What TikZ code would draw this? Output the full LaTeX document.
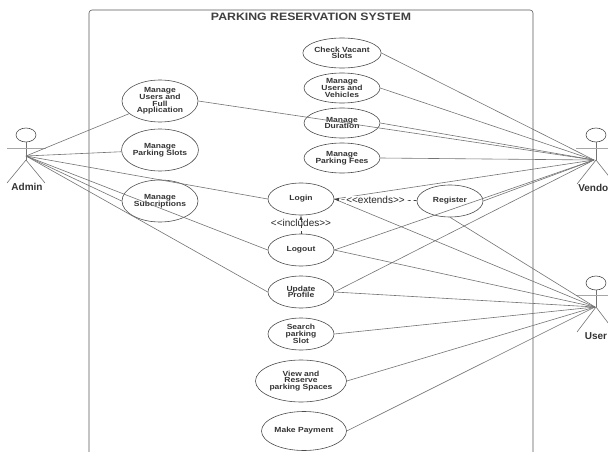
\documentclass[tikz,border=0pt]{standalone}
\usepackage{fontspec}
\setmainfont{Liberation Sans}
\newfontfamily\widefont[FakeStretch=1.15]{Liberation Sans}
\usetikzlibrary{shapes.geometric}
\setlength{\lineskiplimit}{-20pt}

\begin{document}
\begin{tikzpicture}[x=1pt, y=-1pt, line width=0.6pt, color=black!55,
    usecase/.style={ellipse, draw=black!70, inner sep=0pt, align=center, text=black!80, minimum width=76pt, minimum height=42pt, font=\widefont\bfseries\fontsize{7.4}{6.7}\selectfont},
    midcase/.style={usecase, minimum width=66pt, minimum height=32pt},
    actorname/.style={inner sep=0pt, text=black!80, font=\bfseries\fontsize{10}{12}\selectfont},
    relation/.style={inner sep=0pt, text=black!85, font=\fontsize{10}{12}\selectfont},
    depend/.style={dashed, draw=black!75, -latex}]

\useasboundingbox (0,0) rectangle (608,452);
\clip (0,0) rectangle (608,452);

% system
\draw[draw=black!65, rounded corners=3pt] (89,470) -- (89,10) -- (533,10) -- (533,470);
\node[inner sep=0pt, text=black!75, font=\widefont\bfseries\fontsize{10.7}{12}\selectfont] (title) at (311,17) {PARKING RESERVATION SYSTEM};

% use cases
\node[usecase] (fullapp) at (160,101) {Manage\\Users and\\Full\\Application};
\node[usecase] (slots) at (160,150) {Manage\\Parking Slots};
\node[usecase] (subs) at (160,201) {Manage\\Subcriptions};
\node[usecase, minimum height=30pt] (vacant) at (342,53) {Check Vacant\\Slots};
\node[usecase, minimum height=30pt] (vehicles) at (342,88) {Manage\\Users and\\Vehicles};
\node[usecase, minimum height=30pt] (duration) at (342,123) {Manage\\Duration};
\node[usecase, minimum height=30pt] (fees) at (342,158) {Manage\\Parking Fees};
\node[midcase] (login) at (301,199) {Login};
\node[midcase] (logout) at (301,250) {Logout};
\node[midcase] (update) at (301,292) {Update\\Profile};
\node[midcase] (search) at (301,334) {Search\\parking\\Slot};
\node[usecase, minimum width=91pt] (reserve) at (301,381) {View and\\Reserve\\parking Spaces};
\node[usecase, minimum width=85pt, minimum height=39pt] (payment) at (304,431) {Make Payment};
\node[midcase] (register) at (450,201) {Register};

% actors
\node[ellipse, draw=black!70, minimum width=20pt, minimum height=14pt, inner sep=0pt] (adminhead) at (26,135) {};
\coordinate (adminhub) at (26,156);
\coordinate (adminhip) at (26,160);
\coordinate (adminarml) at (7,148);
\coordinate (adminarmr) at (46,148);
\coordinate (adminlegl) at (7,183);
\coordinate (adminlegr) at (45,183);
\draw (adminhead) -- (adminhip);
\draw[draw=black!35] (adminarml) -- (adminarmr);
\draw (adminhip) -- (adminlegl);
\draw (adminhip) -- (adminlegr);
\node[actorname] (admin) at (27,187) {Admin};

\node[ellipse, draw=black!70, minimum width=20pt, minimum height=14pt, inner sep=0pt] (vendorhead) at (596,135) {};
\coordinate (vendorhub) at (594,160);
\coordinate (vendorhip) at (596,160);
\coordinate (vendorarml) at (576,148);
\coordinate (vendorarmr) at (616,148);
\coordinate (vendorlegl) at (577,184);
\coordinate (vendorlegr) at (615,184);
\draw (vendorhead) -- (vendorhip);
\draw[draw=black!35] (vendorarml) -- (vendorarmr);
\draw (vendorhip) -- (vendorlegl);
\draw (vendorhip) -- (vendorlegr);
\node[actorname, anchor=west] (vendor) at (578,188) {Vendo};

\node[ellipse, draw=black!70, minimum width=20pt, minimum height=14pt, inner sep=0pt] (userhead) at (596,283) {};
\coordinate (userhub) at (595,307);
\coordinate (userhip) at (596,307);
\coordinate (userarml) at (576,295);
\coordinate (userarmr) at (616,295);
\coordinate (userlegl) at (577,332);
\coordinate (userlegr) at (615,332);
\draw (userhead) -- (userhip);
\draw[draw=black!35] (userarml) -- (userarmr);
\draw (userhip) -- (userlegl);
\draw (userhip) -- (userlegr);
\node[actorname] (user) at (596,336) {User};

% admin links
\draw (adminhub) -- (fullapp);
\draw (adminhub) -- (slots);
\draw (adminhub) -- (subs.west);
\draw (adminhub) -- (login.west);
\draw (adminhub) -- (logout.west);
\draw (adminhub) -- (update.west);

% vendor links
\draw (vacant.east) -- (vendorhub);
\draw (vehicles.east) -- (vendorhub);
\draw (duration.east) -- (vendorhub);
\draw (fullapp.east) -- (vendorhub);
\draw (fees.east) -- (vendorhub);
\draw (login.east) -- (vendorhub);
\draw (register.east) -- (vendorhub);
\draw (logout.east) -- (vendorhub);
\draw (update.east) -- (vendorhub);

% user links
\draw (login.east) -- (userhub);
\draw (register.south) -- (userhub);
\draw (logout.east) -- (userhub);
\draw (update.east) -- (userhub);
\draw (search.east) -- (userhub);
\draw (reserve.east) -- (userhub);
\draw (payment.east) -- (userhub);

% dependencies
\draw[depend] (logout) -- node[relation, pos=0.6] (includes) {<{}<includes>{}>} (login);
\draw[depend] (register) -- node[relation, fill=white, pos=0.5] (extends) {<{}<extends>{}>} (login);
\end{tikzpicture}
\end{document}
